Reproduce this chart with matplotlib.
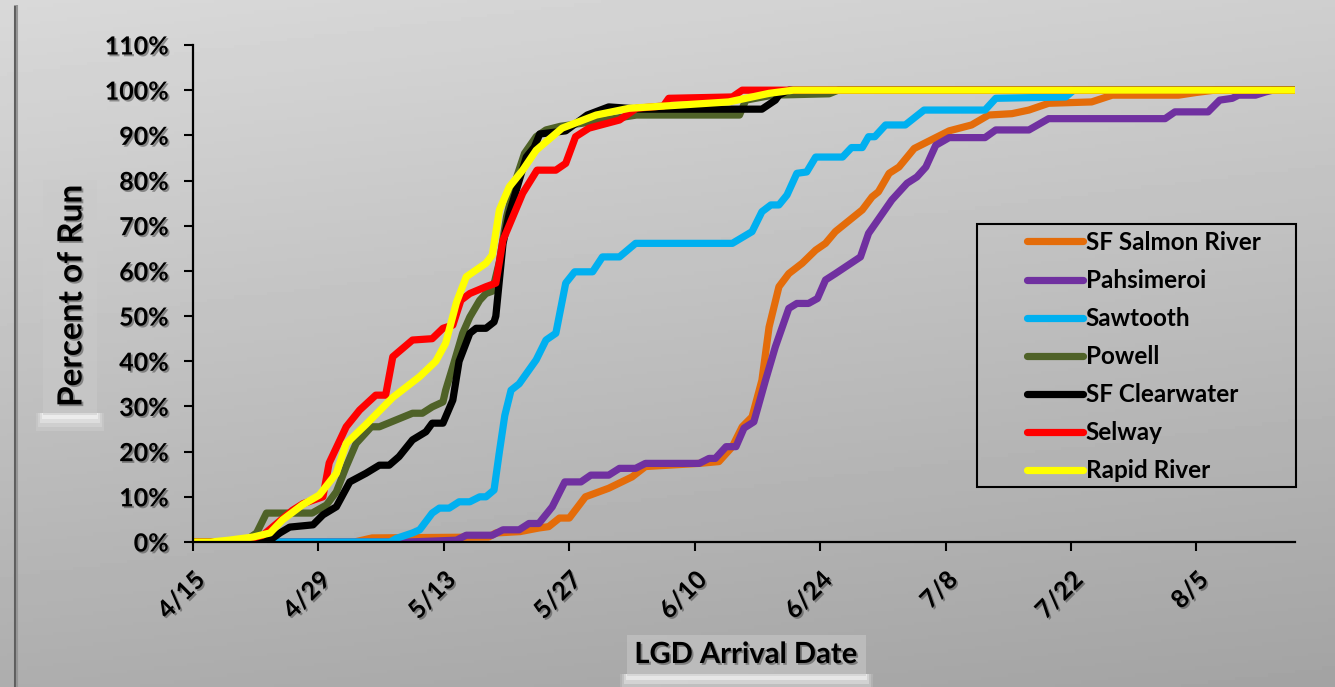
import numpy as np
import matplotlib
matplotlib.use('Agg')
import matplotlib.pyplot as plt
import matplotlib.patheffects as pe
from matplotlib.patches import Rectangle

# days counted from 4/15
tick_days = [0, 14, 28, 42, 56, 70, 84, 98, 112]
tick_labels = ['4/15', '4/29', '5/13', '5/27', '6/10', '6/24', '7/8', '7/22', '8/5']
pct_ticks = [0, 10, 20, 30, 40, 50, 60, 70, 80, 90, 100, 110]

salmon_day = [0, 18, 20, 33, 33.8, 36.5, 38.6, 39.7, 40.9, 42, 43.8, 46.4, 49, 50.5, 56.5, 58.7,
              60.2, 61.3, 62.4, 63.5, 64.3, 65.4, 66.5, 68, 69.5, 70.6, 71.7, 74.7, 75.8, 76.5,
              77.7, 78.8, 80.5, 82.3, 84.4, 86.9, 88.8, 91.4, 93.3, 95.5, 100.3, 102.6, 110,
              112, 114, 123]
salmon_pct = [0, 0, 0.9, 1.1, 2, 2.3, 3.1, 3.4, 5.3, 5.3, 10, 11.9, 14.4, 16.7, 17.4, 17.8,
              21.1, 25.5, 27.7, 35.8, 47.6, 56.5, 59.4, 61.7, 64.6, 66.1, 68.7, 73.5, 76.4, 77.5,
              81.6, 83, 87.1, 88.9, 91, 92.3, 94.5, 94.8, 95.6, 97.1, 97.4, 98.9, 98.9,
              99.5, 100, 100]

pahs_day = [0, 24, 29.4, 30.5, 33.4, 34.6, 36.4, 37.5, 38.6, 40.1, 41.5, 43.3, 44.4, 46.4, 47.6,
            49.4, 50.5, 56.5, 57.6, 58.3, 59.5, 60.6, 61.5, 62.6, 63.9, 65, 66.5, 67.4, 68.7,
            69.7, 70.6, 71.7, 74.5, 75.4, 78, 79.7, 80.8, 81.8, 82.9, 84.4, 88.4, 89.6, 93.3,
            95.5, 108.5, 109.6, 113.3, 114.6, 116, 116.7, 118.6, 119.7, 120.5, 123]
pahs_pct = [0, 0, 0.4, 1.5, 1.5, 2.7, 2.7, 4.1, 4.1, 7.8, 13.3, 13.3, 14.8, 14.8, 16.3,
            16.3, 17.4, 17.4, 18.5, 18.5, 21.1, 21.1, 25.2, 26.6, 35.8, 43.2, 51.7, 52.8, 52.8,
            53.9, 58, 59.4, 63.1, 68.3, 75.7, 79.4, 80.8, 83, 87.8, 89.5, 89.5, 91.2, 91.2,
            93.7, 93.7, 95.2, 95.2, 97.8, 98.2, 98.9, 98.9, 99.6, 100, 100]

saw_day = [0, 22, 22.7, 24.5, 25.3, 26.7, 27.5, 28.6, 29.7, 30.9, 32, 32.7, 33.6, 34.2, 34.8,
           35.5, 36.4, 38.3, 39.4, 40.5, 41.6, 42.6, 44.6, 45.7, 47.6, 49.4, 60.2, 62.4, 63.5,
           64.5, 65.4, 66.3, 67.4, 68.5, 69.5, 72.5, 73.5, 74.7, 75.4, 76.1, 77.3, 79.5, 81.6,
           88.4, 89.6, 97.4, 98.3, 123]
saw_pct = [0, 0, 0.8, 2, 2.7, 6.4, 7.5, 7.5, 8.9, 8.9, 10, 10, 11.5, 20, 28,
           33.6, 35, 40.3, 44.7, 46.2, 57.3, 59.8, 59.8, 63.1, 63.1, 66.1, 66.1, 68.7, 73.1,
           74.6, 74.6, 76.8, 81.6, 81.9, 85.2, 85.2, 87.3, 87.3, 89.7, 89.7, 92.3, 92.3, 95.6,
           95.6, 98.2, 98.5, 100, 100]

powell_day = [0, 5, 6, 7.1, 8.2, 13.3, 14.9, 16, 17.1, 18.2, 19.9, 20.8, 24.5, 25.6, 26.7, 27.9,
              28.2, 29, 30.1, 30.9, 32, 32.7, 33.4, 34.2, 35, 36, 37, 38.3, 39.4, 41, 46, 49.5,
              61, 61.7, 64.7, 71, 72, 123]
powell_pct = [0, 0, 0.5, 2, 6.4, 6.4, 8.2, 11.1, 16.7, 21.8, 25.5, 25.5, 28.5, 28.5, 29.9, 31,
              33.6, 38.8, 46.2, 49.8, 53.5, 55, 55.5, 62, 72, 80, 86, 89.7, 91.2, 92, 93.4, 94.5,
              94.5, 97.8, 98.9, 99.2, 100, 100]

clear_day = [0, 7, 8.6, 9.7, 10.8, 13.4, 14.5, 16, 17.5, 19.3, 20.8, 21.9, 23, 24.5, 26, 26.7,
             27.9, 29, 29.7, 30.9, 31.6, 32.7, 33.6, 33.8, 34.6, 35.3, 37.2, 38.1, 38.7, 41.6,
             44, 46.4, 50, 63.5, 65, 65.4, 66.5, 123]
clear_pct = [0, 0, 0.4, 2, 3.3, 3.8, 6, 7.8, 13.3, 15.2, 17, 17, 18.9, 22.6, 24.4, 26.3,
             26.3, 31.4, 40, 46.2, 47.3, 47.3, 48.7, 50, 66, 72.7, 85.2, 87.4, 90.3, 91,
             94.5, 96.3, 95.8, 95.8, 97.8, 98.9, 100, 100]

selway_day = [0, 5, 7.8, 11.1, 12.3, 14.5, 15.2, 17.1, 18.6, 20.4, 21.5, 22.3, 24.5, 26.7, 27.9,
              29, 29.9, 30.9, 32.7, 33.8, 34.6, 35.7, 36.8, 38.4, 40.5, 41.6, 42.7, 44.2, 47.6,
              49.5, 52.5, 53.1, 60.2, 61.3, 123]
selway_pct = [0, 0, 1.5, 7, 8.5, 10, 17.5, 25.5, 29.2, 32.5, 32.5, 41, 44.7, 45, 47.3,
              48, 53.5, 55, 56.5, 57.3, 66.8, 72, 77.2, 82.3, 82.3, 83.8, 89.7, 91.6, 93.4,
              96, 96.5, 98.2, 98.5, 100, 100]

rapid_day = [0, 2, 4, 6.7, 8.6, 10, 12.2, 14.1, 16, 17.1, 19.3, 22.3, 25.3, 27.1, 28.2, 29.4,
             30.5, 32.7, 33.4, 34.2, 35.3, 36.8, 38.3, 41.2, 45, 48.7, 54.3, 59.8, 62.4, 64.3,
             67, 123]
rapid_pct = [0, 0, 0.4, 1.1, 2, 4.9, 8.2, 10.4, 15.2, 21.8, 26, 32, 36.6, 40, 44, 53,
             58.7, 61.7, 63.5, 73.5, 78.6, 82.3, 86.7, 91.6, 94.5, 96, 96.7, 97.4, 98.5, 99.3,
             100, 100]

series = [
    ('SF Salmon River', salmon_day, salmon_pct, '#E46C0A'),
    ('Pahsimeroi', pahs_day, pahs_pct, '#7030A0'),
    ('Sawtooth', saw_day, saw_pct, '#00B0F0'),
    ('Powell', powell_day, powell_pct, '#4F6228'),
    ('SF Clearwater', clear_day, clear_pct, '#000000'),
    ('Selway', selway_day, selway_pct, '#FF0000'),
    ('Rapid River', rapid_day, rapid_pct, '#FFFF00'),
]

W, H = 1335, 687
fig = plt.figure(figsize=(W / 100, H / 100), dpi=100)

# grey gradient background
bg = fig.add_axes([0, 0, 1, 1], zorder=-10)
yy, xx = np.mgrid[0:1:200j, 0:1:200j]
shade = 0.85 - 0.17 * yy - 0.04 * xx
bg.imshow(shade, cmap='gray', vmin=0, vmax=1, aspect='auto', extent=[0, W, H, 0])
bg.plot([15, 15], [5, H], color='#5e5e5e', lw=2.2, solid_capstyle='butt')
bg.plot([17, 17], [5, H], color='#959595', lw=1.5, solid_capstyle='butt')
bg.set_xlim(0, W)
bg.set_ylim(H, 0)
bg.axis('off')

# label boxes with soft white glow at the bottom
for (x0, y0, x1, y1) in [(43, 180, 97, 415), (627, 635, 866, 676)]:
    for g, a in [(7, 0.12), (5, 0.18), (3, 0.3), (1, 0.45)]:
        bg.add_patch(Rectangle((x0 - g, y1 - 2), x1 - x0 + 2 * g, 4 + 2 * g,
                               facecolor='white', edgecolor='none', alpha=a))
    bg.add_patch(Rectangle((x0, y0), x1 - x0, y1 - y0, facecolor='#cacaca',
                           edgecolor='none', alpha=0.55))

shadow = [pe.withSimplePatchShadow(offset=(1.3, -1.3), shadow_rgbFace='#333333', alpha=0.45)]

ax = fig.add_axes([193 / W, 1 - 542 / H, (1295 - 193) / W, (542 - 45) / H])
ax.set_facecolor('none')

for name, d, p, col in series:
    ax.plot(d, p, color=col, lw=5.2, label=name, solid_capstyle='round',
            solid_joinstyle='round')

ax.set_xlim(0, 123)
ax.set_ylim(0, 110)
ax.set_xticks(tick_days)
ax.set_xticklabels(tick_labels, rotation=45, ha='right', va='top',
                   rotation_mode='anchor')
ax.set_yticks(pct_ticks)
ax.set_yticklabels([str(v) + '%' for v in pct_ticks])
for lab in ax.get_xticklabels() + ax.get_yticklabels():
    lab.set_fontfamily('Lato')
    lab.set_fontweight('bold')
    lab.set_fontsize(18)
    lab.set_path_effects(shadow)
ax.tick_params(axis='both', direction='out', length=6.5, width=1.5, color='black')
ax.tick_params(axis='y', pad=11)
ax.tick_params(axis='x', pad=12)
for s in ['top', 'right']:
    ax.spines[s].set_visible(False)
for s in ['left', 'bottom']:
    ax.spines[s].set_linewidth(1.6)

fig.text(72 / W, 1 - 296 / H, 'Percent of Run', rotation=90, ha='center', va='center',
         fontsize=24, fontweight='bold', family='Lato', path_effects=shadow)
fig.text(746 / W, 1 - 655 / H, 'LGD Arrival Date', ha='center', va='center',
         fontsize=21, fontweight='bold', family='Lato', path_effects=shadow)

# legend with its own frame
fig.patches.append(Rectangle((977 / W, 1 - 487 / H), 319 / W, 263 / H,
                             transform=fig.transFigure, facecolor='none',
                             edgecolor='black', lw=1.5))
leg = fig.legend(loc='upper left', bbox_to_anchor=(1027 / W, 1 - 231 / H),
                 frameon=False, borderpad=0, borderaxespad=0, handlelength=2.3,
                 handletextpad=0.12, labelspacing=0.62,
                 prop={'family': 'Lato', 'weight': 'bold', 'size': 17.5})

fig.savefig('out.png', dpi=100)
